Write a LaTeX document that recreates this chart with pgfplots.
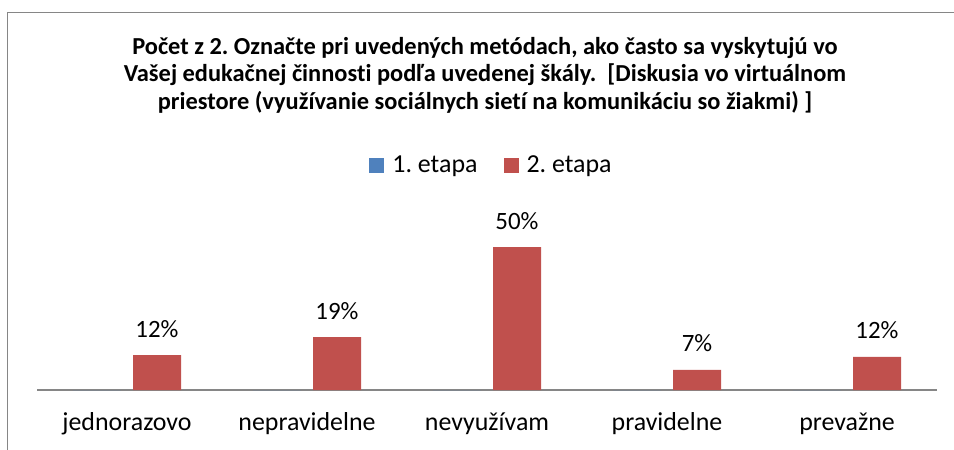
\documentclass[border=0pt]{standalone}
\usepackage{pgfplots}
\pgfplotsset{compat=1.18}
\usepackage{fontspec}
\setmainfont{Carlito}[Ligatures=NoCommon]
\frenchspacing
\definecolor{xred}{HTML}{C0504D}
\definecolor{xblue}{HTML}{4F81BD}
\definecolor{xgray}{HTML}{868686}
\begin{document}
\begin{tikzpicture}
\useasboundingbox (0,0) rectangle (954bp,-450bp);
\draw[xgray, line width=1.2bp] (7.6bp,-450bp) -- (7.6bp,-12.4bp) -- (954bp,-12.4bp);
\node[font=\fontsize{24.5}{27.5}\selectfont\bfseries, align=center] at (485bp,-75bp) {Počet z 2. Označte pri uvedených metódach, ako často sa vyskytujú vo\\Vašej edukačnej činnosti podľa uvedenej škály.\ \ [Diskusia vo virtuálnom\\priestore (využívanie sociálnych sietí na komunikáciu so žiakmi) ]};
\begin{axis}[
  at={(37bp,-390bp)}, anchor=south west,
  scale only axis, width=900bp, height=171.6bp,
  xmin=-0.5, xmax=4.5, ymin=0, ymax=60,
  enlargelimits=false, clip=false,
  ybar, bar width=0.2667,
  axis x line*=bottom, axis y line=none,
  x axis line style={xgray, line width=1.5bp, -},
  xtick={0,...,4},
  xticklabels={jednorazovo,nepravidelne,nevyužívam,pravidelne,prevažne},
  major tick length=0pt,
  xticklabel style={font=\fontsize{26}{30}\selectfont, anchor=base, yshift=-40bp},
  legend style={at={(axis description cs:0.505,1.311)}, anchor=center, draw=none,
    font=\fontsize{26}{30}\selectfont, legend columns=2,
    /tikz/every odd column/.append style={column sep=6bp},
    /tikz/every even column/.append style={column sep=24bp}},
  legend image code/.code={\fill[#1] (0bp,-7.5bp) rectangle (15bp,7.5bp);},
]
\addplot[fill=xblue, draw=none, bar shift=-0.1667] coordinates {(0,0) (1,0) (2,0) (3,0) (4,0)};
\addlegendentry{1. etapa}
\addplot[fill=xred, draw=none, bar shift=0.1667,
  nodes near coords={\pgfmathprintnumber[fixed,precision=0,assume math mode=true]{\pgfplotspointmeta}\%},
  every node near coord/.append style={font=\fontsize{25}{30}\selectfont, text=black, anchor=base, yshift=18bp}]
  coordinates {(0,12.2) (1,18.5) (2,50) (3,7) (4,11.6)};
\addlegendentry{2. etapa}
\end{axis}
\end{tikzpicture}
\end{document}
